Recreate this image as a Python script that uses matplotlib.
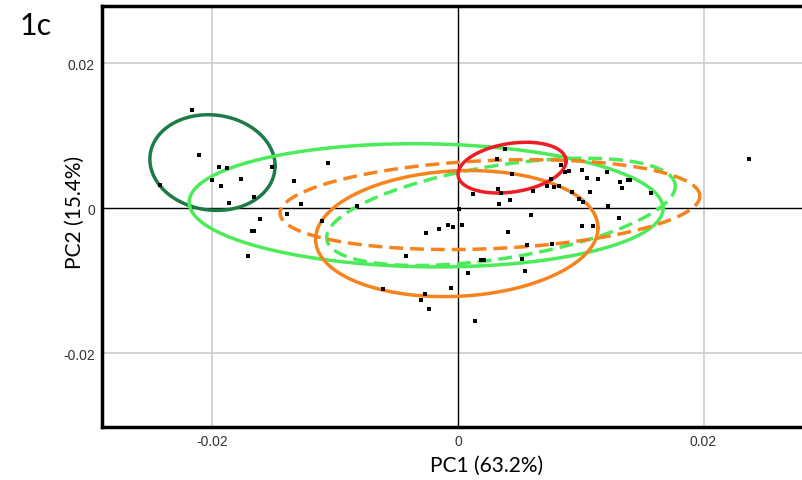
import matplotlib.pyplot as plt
import numpy as np

# sample scores (PC1, PC2)
pc1 = [-0.02169, -0.02108, -0.01950, -0.01884, -0.02007, -0.01765, -0.01931,
       -0.01518, -0.01334, -0.02428, -0.01662, -0.01863, -0.01391, -0.01613,
       -0.01681, -0.01664, -0.01713, -0.01062, -0.01277, -0.00825, -0.01110,
       0.00008, -0.00263, -0.00152, -0.00079, -0.00038, 0.00030, -0.00424,
       -0.00611, -0.00266, -0.00299, -0.00239, -0.00057, 0.00084, 0.00138,
       0.00187, 0.00214, 0.00385, 0.00318, 0.00440, 0.00125, 0.00323, 0.00348,
       0.00420, 0.00332, 0.00405, 0.00524, 0.00560, 0.00542, 0.00837, 0.00872,
       0.00904, 0.01010, 0.01211, 0.01053, 0.01141, 0.00755, 0.01320, 0.01387,
       0.01404, 0.01339, 0.00723, 0.00780, 0.00820, 0.00613, 0.00929, 0.01073,
       0.01575, 0.00983, 0.01018, 0.01224, 0.00592, 0.01309, 0.01013, 0.01102,
       0.00766, 0.02371]
pc2 = [0.01356, 0.00735, 0.00566, 0.00552, 0.00390, 0.00400, 0.00308,
       0.00566, 0.00382, 0.00317, 0.00161, 0.00069, -0.00079, -0.00142,
       -0.00317, -0.00317, -0.00666, 0.00621, 0.00059, 0.00037, -0.00183,
       -0.00010, -0.00335, -0.00290, -0.00234, -0.00266, -0.00225, -0.00662,
       -0.01117, -0.01177, -0.01265, -0.01397, -0.01103, -0.00897, -0.01563,
       -0.00717, -0.00717, 0.00814, 0.00676, 0.00473, 0.00193, 0.00262, 0.00207,
       0.00120, 0.00055, -0.00331, -0.00699, -0.00506, -0.00865, 0.00597,
       0.00506, 0.00514, 0.00534, 0.00506, 0.00418, 0.00400, 0.00410, 0.00363,
       0.00386, 0.00396, 0.00280, 0.00308, 0.00299, 0.00308, 0.00234, 0.00230,
       0.00217, 0.00207, 0.00124, 0.00092, 0.00037, -0.00097, -0.00134,
       -0.00239, -0.00252, -0.00492, 0.00686]

# group ellipses: centre, half x-extent, half y-extent, correlation
ell_cx = [-0.0200, -0.0026, 0.0035, 0.0026, -0.0001, 0.0044]
ell_cy = [0.0063, 0.0004, -0.0005, 0.0005, -0.0035, 0.0056]
ell_sx = [0.0051, 0.0193, 0.0142, 0.0171, 0.0115, 0.0044]
ell_sy = [0.0066, 0.0085, 0.0074, 0.0062, 0.0087, 0.0035]
ell_rho = [-0.07, -0.05, 0.48, 0.19, 0.09, 0.26]
ell_color = ['#1d7b45', '#4ceb5a', '#4ceb5a', '#f7831e', '#f7831e', '#ee1c24']
ell_style = ['-', '-', '--', '--', '-', '-']

fig = plt.figure(figsize=(8.03, 4.81), dpi=100)
ax = fig.add_axes([0.127, 0.110, 0.873, 0.8754])

ax.axhline(0, color='black', lw=1, zorder=1)
ax.axvline(0, color='black', lw=1, zorder=1)
for g in [-0.02, 0.02]:
    ax.axhline(g, color='#cccccc', lw=1.2, zorder=0)
    ax.axvline(g, color='#cccccc', lw=1.2, zorder=0)

t = np.linspace(0, 2 * np.pi, 300)
for cx, cy, sx, sy, r, c, ls in zip(ell_cx, ell_cy, ell_sx, ell_sy, ell_rho, ell_color, ell_style):
    ex = cx + sx * np.cos(t)
    ey = cy + sy * (r * np.cos(t) + np.sqrt(1 - r * r) * np.sin(t))
    if ls == '--':
        ax.plot(ex, ey, color=c, lw=2.5, dashes=(4, 2), zorder=2)
    else:
        ax.plot(ex, ey, color=c, lw=2.5, zorder=2)

ax.scatter(pc1, pc2, s=5, color='black', marker='s', linewidths=0, zorder=3)

ax.set_xlim(-0.0290, 0.0281)
ax.set_ylim(-0.0302, 0.0279)
ax.set_xticks([-0.02, 0, 0.02])
ax.set_yticks([-0.02, 0, 0.02])
ax.set_xticklabels(['-0.02', '0', '0.02'])
ax.set_yticklabels(['-0.02', '0', '0.02'])
ax.tick_params(length=0, labelsize=10, labelcolor='#333333', pad=5,
               labelfontfamily='Liberation Sans')

for s in ['left', 'bottom', 'top']:
    ax.spines[s].set_linewidth(2.5)
ax.spines['right'].set_visible(False)

ax.set_xlabel('PC1 (63.2%)', fontsize=15, family='Lato')
ax.set_ylabel('PC2 (15.4%)', fontsize=15, family='Lato')
ax.xaxis.set_label_coords(0.548, -0.066)
ax.yaxis.set_label_coords(-0.024, 0.513)
fig.text(0.024, 0.945, '1c', fontsize=22, family='Lato', va='center')

fig.savefig('out.png', dpi=100)
